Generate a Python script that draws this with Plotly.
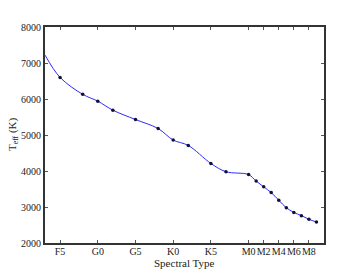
import plotly.graph_objects as go

# Spectral type index: F0=0, G0=10, K0=20, M0=30
spt_line = [3, 5, 8, 10, 12, 15, 18, 20, 22, 25, 27, 30, 31, 32, 33, 34, 35, 36, 37, 38, 39]
teff_line = [7220, 6600, 6130, 5940, 5690, 5430, 5180, 4860, 4710, 4210, 3980, 3900,
             3720, 3560, 3400, 3190, 2980, 2850, 2760, 2660, 2580]

spt_pts = [5, 8, 10, 12, 15, 18, 20, 22, 25, 27, 30, 31, 32, 33, 34, 35, 36, 37, 38, 39]
teff_pts = [6600, 6130, 5940, 5690, 5430, 5180, 4860, 4710, 4210, 3980, 3900,
            3720, 3560, 3400, 3190, 2980, 2850, 2760, 2660, 2580]

tick_vals = [5, 10, 15, 20, 25, 30, 32, 34, 36, 38]
tick_text = ["F5", "G0", "G5", "K0", "K5", "M0", "M2", "M4", "M6", "M8"]
y_ticks = [2000, 3000, 4000, 5000, 6000, 7000, 8000]

fig = go.Figure()
fig.add_trace(go.Scatter(x=spt_line, y=teff_line, mode="lines",
                         line=dict(color="#2a2aff", width=1, shape="spline", smoothing=1.0),
                         hoverinfo="skip", showlegend=False))
fig.add_trace(go.Scatter(x=spt_pts, y=teff_pts, mode="markers",
                         marker=dict(color="#111133", size=3.5),
                         showlegend=False))

font = dict(family="Liberation Serif", size=10, color="#222")
title_font = dict(family="Liberation Serif", size=11, color="#222")
axis_common = dict(showline=True, linewidth=2, linecolor="#333", mirror="ticks",
                   ticks="inside", ticklen=3, tickwidth=1, tickcolor="#555",
                   showgrid=False, zeroline=False, tickfont=font, automargin=False)

# page body has an 8px margin; the figure is sized to sit inside the 360x270 window
fig.update_layout(
    width=352, height=262,
    margin=dict(l=37, r=36, t=19, b=27),
    paper_bgcolor="white", plot_bgcolor="white",
    font=font,
    xaxis=dict(range=[3, 40], tickvals=tick_vals, ticktext=tick_text, tickangle=0,
               ticklabelstandoff=-2, **axis_common),
    yaxis=dict(range=[2000, 8000], tickvals=y_ticks, **axis_common),
    annotations=[
        dict(text="Spectral Type", xref="paper", yref="paper", x=0.5, y=0,
             xanchor="center", yanchor="top", yshift=-12, showarrow=False,
             font=title_font),
        dict(text="T<sub>eff</sub> (K)", xref="paper", yref="paper", x=0, y=0.5,
             xanchor="right", yanchor="middle", xshift=-23, textangle=-90,
             showarrow=False, font=title_font),
    ],
)

fig.write_html("out.html")
